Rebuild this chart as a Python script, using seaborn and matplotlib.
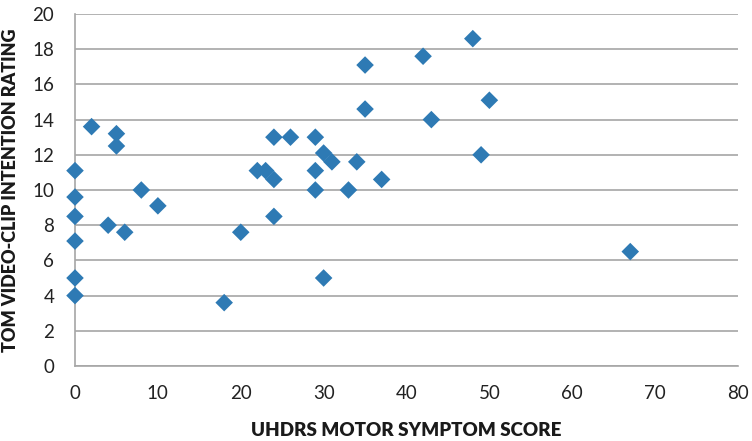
import matplotlib
matplotlib.use("Agg")
import matplotlib.pyplot as plt
import pandas as pd
import seaborn as sns

# UHDRS motor score vs ToM video-clip intention rating
motor_score = [0, 0, 0, 0, 0, 0,
               2, 5, 5, 4, 6, 8, 10,
               18, 20, 22, 23, 24, 24, 24, 26, 29, 29, 29, 30, 30, 31,
               33, 34, 35, 35, 37,
               42, 43, 48, 49, 50, 67]
intention_rating = [11.1, 9.6, 8.5, 7.1, 5.0, 4.0,
                    13.6, 13.2, 12.5, 8.0, 7.6, 10.0, 9.1,
                    3.6, 7.6, 11.1, 11.1, 10.6, 13.0, 8.5, 13.0, 13.0, 11.1, 10.0, 12.1, 5.0, 11.6,
                    10.0, 11.6, 14.6, 17.1, 10.6,
                    17.6, 14.0, 18.6, 12.0, 15.1, 6.5]
x_ticks = [0, 10, 20, 30, 40, 50, 60, 70, 80]
y_ticks = [0, 2, 4, 6, 8, 10, 12, 14, 16, 18, 20]

df = pd.DataFrame({"motor": motor_score, "tom": intention_rating})

sns.set_theme(style="white")
plt.rcParams["font.family"] = ["Lato", "DejaVu Sans"]

fig = plt.figure(figsize=(7.52, 4.41), dpi=100)
ax = fig.add_axes([75 / 752, 75 / 441, (738 - 75) / 752, (366 - 14) / 441])

sns.scatterplot(data=df, x="motor", y="tom", marker="D", s=80,
                color="#2E7AB4", edgecolor="none", ax=ax, zorder=3, clip_on=False)

ax.set_xlim(0, 80)
ax.set_ylim(0, 20)
ax.set_xticks(x_ticks)
ax.set_yticks(y_ticks)
ax.yaxis.grid(True, color="#a6a6a6", linewidth=1.2)
ax.xaxis.grid(False)
ax.set_axisbelow(True)
for side in ["top", "right"]:
    ax.spines[side].set_visible(False)
for side in ["left", "bottom"]:
    ax.spines[side].set_color("#a6a6a6")
    ax.spines[side].set_linewidth(1.2)
ax.tick_params(axis="both", length=0, labelsize=13.5, colors="#222222")
ax.tick_params(axis="x", pad=14)
ax.tick_params(axis="y", pad=15)

ax.set_xlabel("UHDRS MOTOR SYMPTOM SCORE", fontsize=13.5, fontweight="heavy",
              color="#1a1a1a")
ax.set_ylabel("TOM VIDEO-CLIP INTENTION RATING", fontsize=13, fontweight="heavy",
              color="#1a1a1a")
ax.xaxis.set_label_coords(0.5, -0.158)
ax.yaxis.set_label_coords(-0.084, 0.5)

fig.savefig("out.png", dpi=100)
